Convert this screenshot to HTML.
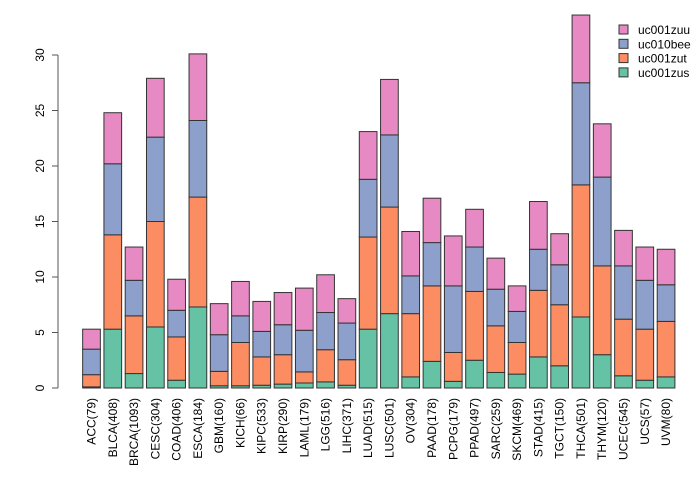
<!DOCTYPE html>
<html><head><meta charset="utf-8"><style>
html,body{margin:0;padding:0;background:#fff;}
svg{display:block;font-family:"Liberation Sans",sans-serif;}
</style></head><body>
<svg id="chart" width="700" height="480" viewBox="0 0 700 480"></svg>
<script>
const categories=["ACC(79)","BLCA(408)","BRCA(1093)","CESC(304)","COAD(406)","ESCA(184)","GBM(160)","KICH(66)","KIPC(533)","KIRP(290)","LAML(179)","LGG(516)","LIHC(371)","LUAD(515)","LUSC(501)","OV(304)","PAAD(178)","PCPG(179)","PPAD(497)","SARC(259)","SKCM(469)","STAD(415)","TGCT(150)","THCA(501)","THYM(120)","UCEC(545)","UCS(57)","UVM(80)"];
const uc001zus=[0.1,5.3,1.3,5.5,0.7,7.3,0.2,0.2,0.25,0.35,0.45,0.55,0.25,5.3,6.7,1.0,2.4,0.6,2.5,1.4,1.25,2.8,2.0,6.4,3.0,1.1,0.7,1.0];
const uc001zut=[1.1,8.5,5.2,9.5,3.9,9.9,1.3,3.9,2.55,2.65,1.0,2.9,2.3,8.3,9.6,5.7,6.8,2.6,6.2,4.2,2.85,6.0,5.5,11.9,8.0,5.1,4.6,5.0];
const uc010bee=[2.3,6.4,3.2,7.6,2.4,6.9,3.3,2.4,2.3,2.7,3.75,3.35,3.3,5.2,6.5,3.4,3.9,6.0,4.0,3.3,2.8,3.7,3.6,9.2,8.0,4.8,4.4,3.3];
const uc001zuu=[1.8,4.6,3.0,5.3,2.8,6.0,2.8,3.1,2.7,2.9,3.8,3.4,2.2,4.3,5.0,4.0,4.0,4.5,3.4,2.8,2.3,4.3,2.8,6.1,4.8,3.2,3.0,3.2];
const seriesNames=["uc001zus","uc001zut","uc010bee","uc001zuu"];
const yTicks=[0,5,10,15,20,25,30];

const NS="http://www.w3.org/2000/svg";
const svg=document.getElementById('chart');
const series=[uc001zus,uc001zut,uc010bee,uc001zuu];
const colors=["#66C2A5","#FC8D62","#8DA0CB","#E78AC3"];
const y0=388,pxPerUnit=11.1;
const y=v=>y0-v*pxPerUnit;
const step=21.28,bw=17.7,firstCenter=91.5;
const xc=i=>firstCenter+i*step;
function mk(tag,attrs){const e=document.createElementNS(NS,tag);for(const k in attrs)e.setAttribute(k,attrs[k]);svg.appendChild(e);return e;}

categories.forEach((c,i)=>{
  let cum=0;
  series.forEach((s,j)=>{
    const v=s[i];
    const r=mk('rect',{x:xc(i)-bw/2,y:y(cum+v),width:bw,height:v*pxPerUnit,fill:colors[j],stroke:"#333",'stroke-width':1});
    
    
    cum+=v;
  });
  const t=mk('text',{x:0,y:0,transform:`translate(${xc(i)+4},398) rotate(-90)`,'text-anchor':'end','font-size':12,fill:'#000'});
  t.textContent=c;
  
  
});

// y axis
const ax=mk('line',{x1:58,x2:58,y1:y(0),y2:y(30),stroke:'#555','stroke-width':1});


yTicks.forEach(v=>{
  const tk=mk('line',{x1:52,x2:58,y1:y(v),y2:y(v),stroke:'#555','stroke-width':1});
  
  
  const t=mk('text',{x:0,y:0,transform:`translate(44,${y(v)}) rotate(-90)`,'text-anchor':'middle','font-size':12,fill:'#000'});
  t.textContent=v;
  
  
});

// legend
const legOrder=[3,2,1,0];
legOrder.forEach((j,k)=>{
  const yy=30+k*14.3;
  const r=mk('rect',{x:619,y:yy-5,width:9,height:9,fill:colors[j],stroke:'#333','stroke-width':1});
  
  
  const t=mk('text',{x:638,y:yy+4,'font-size':12,fill:'#000'});
  t.textContent=seriesNames[j];
  
  
});
</script>
</body></html>
